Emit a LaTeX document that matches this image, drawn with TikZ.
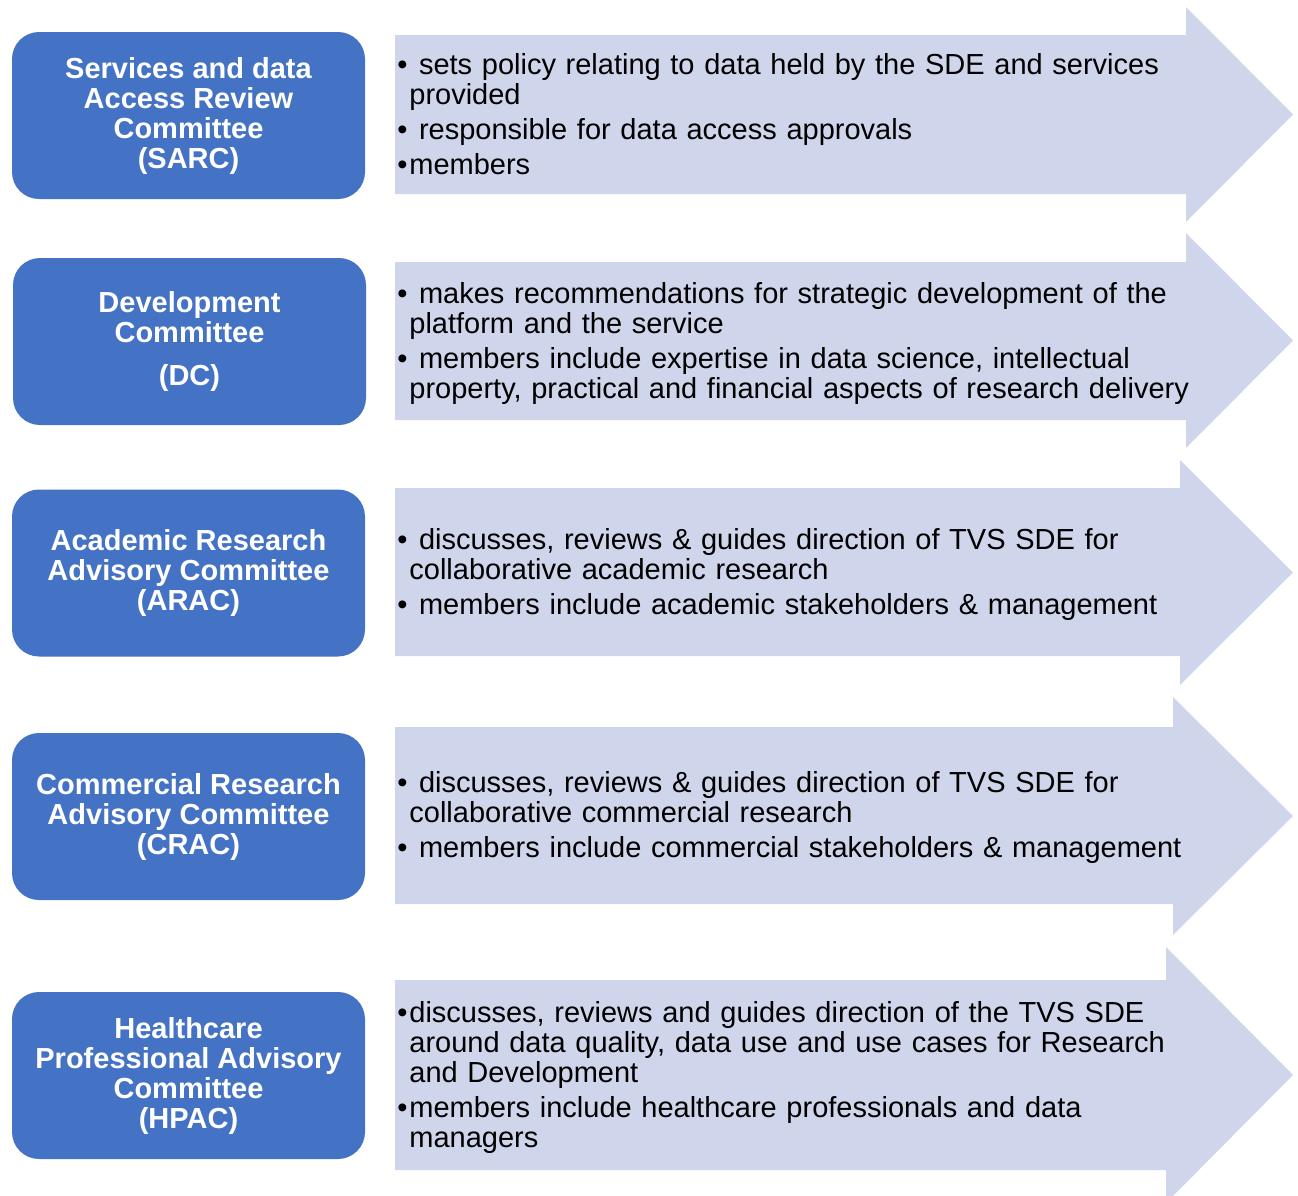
\documentclass[tikz,border=0pt]{standalone}
\usepackage{fontspec}
\setmainfont{Liberation Sans}
\usepackage{xcolor}
\definecolor{boxblue}{HTML}{4472C4}
\definecolor{arrowfill}{HTML}{CFD5EA}
\tikzset{
  committee/.style = {fill=boxblue, rounded corners=13.5pt,
    minimum width=176.5pt, minimum height=83.5pt, inner sep=0pt,
    text=white, align=center, font=\bfseries\fontsize{14.5}{15}\selectfont}
}
\tikzset{
  remit/.style = {anchor=west, inner sep=0pt, text width=400pt,
    align=left, font=\fontsize{14.5}{15}\selectfont}
}
\tikzset{
  info arrow/.style = {fill=arrowfill}
}
% bullet with hanging indent
\newcommand{\itm}{\par\setlength{\parskip}{2.5pt}\hangindent=6pt\hangafter=1
  \noindent\makebox[6pt][l]{•}}
% body top, body bottom, head x, head top, head bottom
\newcommand{\infoarrow}[5]{
  \fill[info arrow] (395,#1) -- (#3,#1) -- (#3,#4)
    -- (1293,{(#4+#5)/2}) -- (#3,#5) -- (#3,#2) -- (395,#2) -- cycle;
}

\begin{document}
\begin{tikzpicture}[x=0.5pt, y=-0.5pt]
  \clip (0,0) rectangle (1298,1196);

  \infoarrow{35}{194}{1186}{7}{222}
  \infoarrow{262}{420}{1186}{233}{448}
  \infoarrow{488}{656}{1180}{460}{685}
  \infoarrow{727}{904}{1173}{697}{935}
  \infoarrow{980}{1170}{1166}{947}{1203}

  \node[committee] (sarc) at (188.5,115.5)
    {Services and data\\Access Review\\Committee\\(SARC)};
  \node[committee] (dc) at (189.5,341.5)
    {Development\\Committee\\[6.5pt](DC)};
  \node[committee] (arac) at (188.5,573)
    {Academic Research\\Advisory Committee\\(ARAC)};
  \node[committee] (crac) at (188.5,816.5)
    {Commercial Research\\Advisory Committee\\(CRAC)};
  \node[committee] (hpac) at (188.5,1075.5)
    {Healthcare\\Professional Advisory\\Committee\\(HPAC)};

  \node[remit] (sarc remit) at (397,107) {%
    \itm\ sets policy relating to data held by the SDE and services\newline
    provided
    \itm\ responsible for data access approvals
    \itm members\par};
  \node[remit] (dc remit) at (397,336) {%
    \itm\ makes recommendations for strategic development of the\newline
    platform and the service
    \itm\ members include expertise in data science, intellectual\newline
    property, practical and financial aspects of research delivery\par};
  \node[remit] (arac remit) at (397,567) {%
    \itm\ discusses, reviews \& guides direction of TVS SDE for\newline
    collaborative academic research
    \itm\ members include academic stakeholders \& management\par};
  \node[remit] (crac remit) at (397,810.5) {%
    \itm\ discusses, reviews \& guides direction of TVS SDE for\newline
    collaborative commercial research
    \itm\ members include commercial stakeholders \& management\par};
  \node[remit] (hpac remit) at (397,1070.5) {%
    \itm discusses, reviews and guides direction of the TVS SDE\newline
    around data quality, data use and use cases for Research\newline
    and Development
    \itm members include healthcare professionals and data\newline
    managers\par};
\end{tikzpicture}
\end{document}
